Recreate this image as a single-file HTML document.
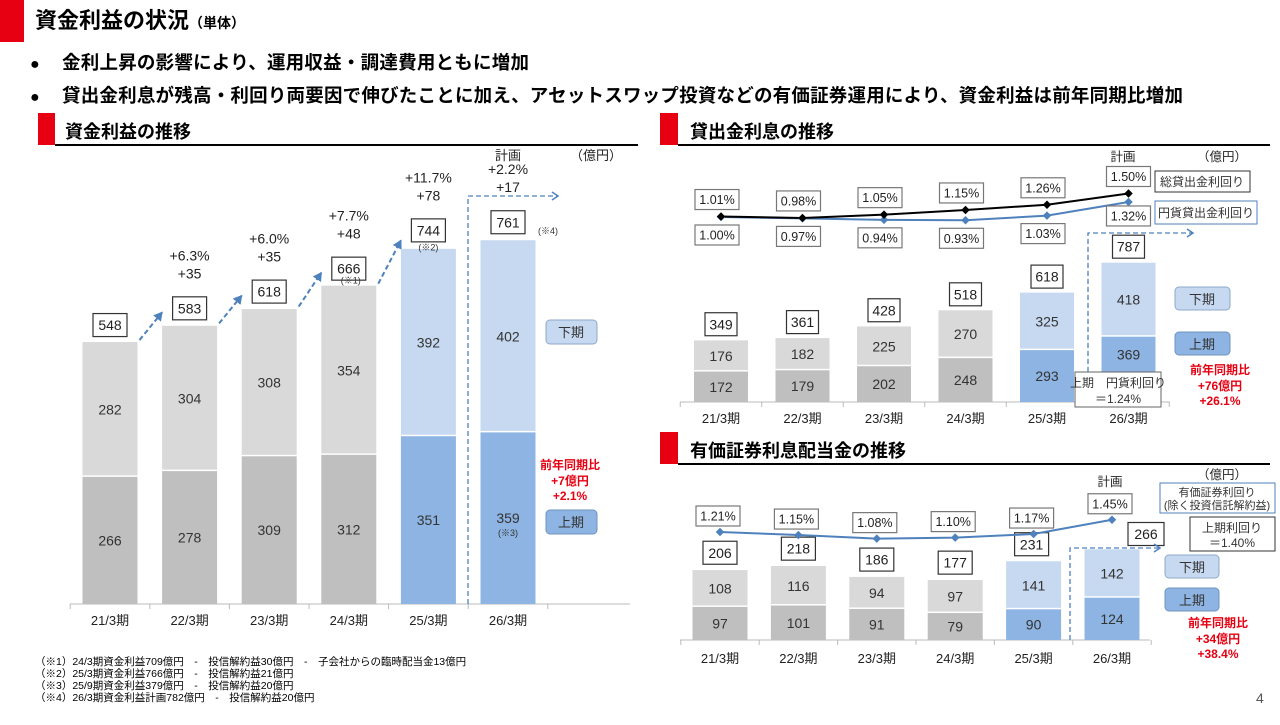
<!DOCTYPE html>
<html><head><meta charset="utf-8">
<style>
body{margin:0;background:#fff;width:1280px;height:720px;overflow:hidden;font-family:"Liberation Sans","Noto Sans CJK JP",sans-serif;}
svg text{font-family:"Liberation Sans","Noto Sans CJK JP",sans-serif;}
</style></head>
<body>
<svg id="s" width="1280" height="720" xmlns="http://www.w3.org/2000/svg">
<defs>
<marker id="ah" markerWidth="10" markerHeight="10" refX="7" refY="5" orient="auto" markerUnits="userSpaceOnUse"><path d="M1,1 L7,5 L1,9" fill="none" stroke="#4f81bd" stroke-width="1.5"/></marker>
<marker id="ahs" markerWidth="10" markerHeight="10" refX="8" refY="5" orient="auto" markerUnits="userSpaceOnUse"><path d="M0,0 L9,5 L0,10 Z" fill="#4f81bd"/></marker>
</defs>
<rect x="0" y="0" width="24" height="42" fill="#e60012"/>
<text x="35" y="28" font-size="22" font-weight="bold">資金利益の状況<tspan font-size="14">（単体）</tspan></text>
<text x="30" y="69" font-size="16" font-weight="bold">●</text>
<text x="62" y="69" font-size="18.5" font-weight="bold" textLength="467">金利上昇の影響により、運用収益・調達費用ともに増加</text>
<text x="30" y="102" font-size="16" font-weight="bold">●</text>
<text x="62" y="102" font-size="18.5" font-weight="bold" textLength="1121">貸出金利息が残高・利回り両要因で伸びたことに加え、アセットスワップ投資などの有価証券運用により、資金利益は前年同期比増加</text>

<rect x="38" y="113" width="17" height="32" fill="#e60012"/>
<line x1="55" y1="145" x2="638" y2="145" stroke="#000" stroke-width="2"/>
<text x="65" y="138" font-size="18" font-weight="bold">資金利益の推移</text>
<rect x="660" y="113" width="18" height="32" fill="#e60012"/>
<line x1="678" y1="145" x2="1270" y2="145" stroke="#000" stroke-width="2"/>
<text x="690" y="138" font-size="18" font-weight="bold">貸出金利息の推移</text>
<rect x="660" y="432" width="18" height="32" fill="#e60012"/>
<line x1="678" y1="464" x2="1270" y2="464" stroke="#000" stroke-width="2"/>
<text x="690" y="457" font-size="18" font-weight="bold">有価証券利息配当金の推移</text>

<g id="L"></g><g id="R1"></g><g id="R2"></g>

<g font-size="10.5">
<text x="35" y="665">（※1）24/3期資金利益709億円　-　投信解約益30億円　-　子会社からの臨時配当金13億円</text>
<text x="35" y="677">（※2）25/3期資金利益766億円　-　投信解約益21億円</text>
<text x="35" y="689">（※3）25/9期資金利益379億円　-　投信解約益20億円</text>
<text x="35" y="701">（※4）26/3期資金利益計画782億円　-　投信解約益20億円</text>
</g>
<text x="1256" y="703" font-size="14" fill="#555">4</text>
</svg>
<script>
const cats=["21/3期","22/3期","23/3期","24/3期","25/3期","26/3期"];
// left chart
const nimLower=[266,278,309,312,351,359];
const nimUpper=[282,304,308,354,392,402];
const nimTotal=[548,583,618,666,744,761];
const nimGrowthPct=["","+6.3%","+6.0%","+7.7%","+11.7%","+2.2%"];
const nimGrowthAmt=["","+35","+35","+48","+78","+17"];
// loan chart
const loanLower=[172,179,202,248,293,369];
const loanUpper=[176,182,225,270,325,418];
const loanTotal=[349,361,428,518,618,787];
const loanYieldTotal=[1.01,0.98,1.05,1.15,1.26,1.50];
const loanYieldYen=[1.00,0.97,0.94,0.93,1.03,1.32];
// securities chart
const secLower=[97,101,91,79,90,124];
const secUpper=[108,116,94,97,141,142];
const secTotal=[206,218,186,177,231,266];
const secYield=[1.21,1.15,1.08,1.10,1.17,1.45];

const NS="http://www.w3.org/2000/svg";
function mk(p,tag,at,txt){const e=document.createElementNS(NS,tag);for(const k in at)e.setAttribute(k,at[k]);if(txt!==undefined)e.textContent=txt;p.appendChild(e);return e;}
function lbl(p,x,y,t,o){o=o||{};const e=mk(p,'text',{x:x,y:y,'text-anchor':o.a||'middle','font-size':o.fs||14,fill:o.fill||'#333','font-weight':o.fw||'normal'},t);return e;}
function boxLbl(p,x,y,t,w,h,fs,stroke){const r=mk(p,'rect',{x:x-w/2,y:y-h/2,width:w,height:h,fill:'#fff',stroke:stroke||'#333','stroke-width':1.2});lbl(p,x,y+fs*0.36,t,{fs:fs,fill:'#222'});return r;}
function pctf(v){return v.toFixed(2)+'%';}
const cGray1='#bfbfbf',cGray2='#d9d9d9',cBlue1='#8db4e2',cBlue2='#c6d9f1';

// ---------- LEFT ----------
(function(){
const g=document.getElementById('L');
const base=604,k=0.478,x0=110,dx=79.6,bw=55;
const X=i=>x0+i*dx, Y=v=>base-v*k;
mk(g,'line',{x1:70,y1:base,x2:630,y2:base,stroke:'#bbb'});
for(let i=0;i<=6;i++){mk(g,'line',{x1:X(i)-dx/2,y1:base,x2:X(i)-dx/2,y2:base+5,stroke:'#bbb'});}
for(let i=0;i<6;i++){
 const blue=i>=4;
 const lo=mk(g,'rect',{x:X(i)-bw/2,y:Y(nimLower[i]),width:bw,height:nimLower[i]*k,fill:blue?cBlue1:cGray1});
 
 
 const up=mk(g,'rect',{x:X(i)-bw/2,y:Y(nimLower[i]+nimUpper[i]),width:bw,height:nimUpper[i]*k-1.5,fill:blue?cBlue2:cGray2});
 
 
 lbl(g,X(i),Y(nimLower[i]/2)+5,nimLower[i],{fs:14});
 lbl(g,X(i),Y(nimLower[i]+nimUpper[i]/2)+5,nimUpper[i],{fs:14});
 const top=Y(nimTotal[i]);
 const by=i>=4?top-18:top-17;
 boxLbl(g,X(i),by,nimTotal[i],34,23,14);
 lbl(g,X(i),620+5,cats[i],{fs:13,fill:'#222'});
 if(nimGrowthPct[i]){lbl(g,X(i),by-48,nimGrowthPct[i],{fs:14,fill:'#222'});lbl(g,X(i),by-30,nimGrowthAmt[i],{fs:14,fill:'#222'});}
 if(i<4){const n=i+1;mk(g,'line',{x1:X(i)+bw/2+2,y1:top-2,x2:X(n)-bw/2,y2:Y(nimTotal[n])-(n>=4?12:17)+4,stroke:'#4f81bd','stroke-width':2,'stroke-dasharray':'5,3','marker-end':'url(#ahs)'});}
}
lbl(g,X(3)+2,Y(nimTotal[3])-2,'(※1)',{fs:9});
lbl(g,X(4),Y(nimTotal[4])+2,'(※2)',{fs:9});
lbl(g,X(5)+40,Y(nimTotal[5])-6,'(※4)',{fs:9});
lbl(g,X(5),Y(nimLower[5]/2)+18,'(※3)',{fs:9});
mk(g,'path',{d:'M468,604 L468,196 L558,196',fill:'none',stroke:'#4f81bd','stroke-width':1.3,'stroke-dasharray':'5,3','marker-end':'url(#ah)'});
lbl(g,X(5),160,'計画',{fs:13,fill:'#222'});lbl(g,596,160,'（億円）',{fs:13,fill:'#222'});
mk(g,'rect',{x:546,y:320,width:51,height:24,rx:4,fill:cBlue2,stroke:'#8ea9c9'});lbl(g,571,337,'下期',{fs:13});
mk(g,'rect',{x:546,y:510,width:51,height:24,rx:4,fill:cBlue1,stroke:'#6f93bf'});lbl(g,571,527,'上期',{fs:13});
lbl(g,570,469,'前年同期比',{fs:12,fw:'bold',fill:'#e60012'});lbl(g,570,485,'+7億円',{fs:12,fw:'bold',fill:'#e60012'});lbl(g,570,500,'+2.1%',{fs:12,fw:'bold',fill:'#e60012'});
})();

// ---------- RIGHT TOP ----------
(function(){
const g=document.getElementById('R1');
const base=402,k=0.177,x0=721,dx=81.5,bw=54;
const X=i=>x0+i*dx,Y=v=>base-v*k,LY=v=>264-47*v;
mk(g,'line',{x1:680,y1:base,x2:1170,y2:base,stroke:'#bbb'});
for(let i=0;i<=6;i++){mk(g,'line',{x1:X(i)-dx/2,y1:base,x2:X(i)-dx/2,y2:base+5,stroke:'#bbb'});}
for(let i=0;i<6;i++){
 const blue=i>=4;
 const lo=mk(g,'rect',{x:X(i)-bw/2,y:Y(loanLower[i]),width:bw,height:loanLower[i]*k,fill:blue?cBlue1:cGray1});
 
 
 const up=mk(g,'rect',{x:X(i)-bw/2,y:Y(loanLower[i]+loanUpper[i]),width:bw,height:loanUpper[i]*k-1.5,fill:blue?cBlue2:cGray2});
 
 
 lbl(g,X(i),(i==5?Y(loanLower[i])+23:Y(loanLower[i]/2)+5),loanLower[i],{fs:14});
 lbl(g,X(i),Y(loanLower[i]+loanUpper[i]/2)+5,loanUpper[i],{fs:14});
 boxLbl(g,X(i),Y(loanTotal[i])-16,loanTotal[i],32,23,14);
 lbl(g,X(i),423,cats[i],{fs:13,fill:'#222'});
}
let pb='',py='';
for(let i=0;i<6;i++){pb+=(i?'L':'M')+X(i)+','+LY(loanYieldTotal[i]);py+=(i?'L':'M')+X(i)+','+LY(loanYieldYen[i]);}
const l2=mk(g,'path',{d:py,fill:'none',stroke:'#4f81bd','stroke-width':2});


const l1=mk(g,'path',{d:pb,fill:'none',stroke:'#000','stroke-width':2});


for(let i=0;i<6;i++){
 mk(g,'rect',{x:X(i)-3,y:LY(loanYieldYen[i])-3,width:6,height:6,fill:'#4f81bd',transform:'rotate(45 '+X(i)+' '+LY(loanYieldYen[i])+')'});
 mk(g,'rect',{x:X(i)-3,y:LY(loanYieldTotal[i])-3,width:6,height:6,fill:'#000',transform:'rotate(45 '+X(i)+' '+LY(loanYieldTotal[i])+')'});
 boxLbl(g,X(i)-4+(i==5?4:0),LY(loanYieldTotal[i])-17,pctf(loanYieldTotal[i]),44,20,12.5,'#777');
 boxLbl(g,X(i)-4+(i==5?4:0),LY(loanYieldYen[i])+(i==5?14:18),pctf(loanYieldYen[i]),44,20,12.5,'#777');
}
mk(g,'path',{d:'M1088,372 L1088,233 L1193,233',fill:'none',stroke:'#4f81bd','stroke-width':1.3,'stroke-dasharray':'5,3','marker-end':'url(#ah)'});
lbl(g,1123,161,'計画',{fs:12.5,fill:'#222'});lbl(g,1222,161,'（億円）',{fs:12.5,fill:'#222'});
mk(g,'rect',{x:1155,y:171,width:95,height:21,fill:'#fff',stroke:'#333'});lbl(g,1202,186,'総貸出金利回り',{fs:12});
mk(g,'rect',{x:1155,y:201,width:102,height:23,fill:'#fff',stroke:'#4f81bd'});lbl(g,1206,217,'円貨貸出金利回り',{fs:12});
mk(g,'rect',{x:1175,y:287,width:55,height:23,rx:4,fill:cBlue2,stroke:'#8ea9c9'});lbl(g,1202,304,'下期',{fs:13});
mk(g,'rect',{x:1175,y:332,width:55,height:23,rx:4,fill:cBlue1,stroke:'#6f93bf'});lbl(g,1202,349,'上期',{fs:13});
mk(g,'rect',{x:1075,y:372,width:86,height:35,fill:'#fff',stroke:'#666'});lbl(g,1118,387,'上期　円貨利回り',{fs:12});lbl(g,1118,403,'＝1.24%',{fs:12});
lbl(g,1220,374,'前年同期比',{fs:12,fw:'bold',fill:'#e60012'});lbl(g,1220,390,'+76億円',{fs:12,fw:'bold',fill:'#e60012'});lbl(g,1220,405,'+26.1%',{fs:12,fw:'bold',fill:'#e60012'});
})();

// ---------- RIGHT BOTTOM ----------
(function(){
const g=document.getElementById('R2');
const base=640,k=0.341,x0=720,dx=78.4,bw=55;
const X=i=>x0+i*dx,Y=v=>base-v*k,LY=v=>532+(1.21-v)*51;
mk(g,'line',{x1:680,y1:base,x2:1150,y2:base,stroke:'#bbb'});
for(let i=0;i<=6;i++){mk(g,'line',{x1:X(i)-dx/2,y1:base,x2:X(i)-dx/2,y2:base+5,stroke:'#bbb'});}
for(let i=0;i<6;i++){
 const blue=i>=4;
 const lo=mk(g,'rect',{x:X(i)-bw/2,y:Y(secLower[i]),width:bw,height:secLower[i]*k,fill:blue?cBlue1:cGray1});
 
 
 const up=mk(g,'rect',{x:X(i)-bw/2,y:Y(secLower[i]+secUpper[i]),width:bw,height:secUpper[i]*k-1.5,fill:blue?cBlue2:cGray2});
 
 
 lbl(g,X(i),Y(secLower[i]/2)+5,secLower[i],{fs:14});
 lbl(g,X(i),Y(secLower[i]+secUpper[i]/2)+5,secUpper[i],{fs:14});
 if(i<5)boxLbl(g,X(i)+(i==4?-2:0),Y(secTotal[i])-17,secTotal[i],34,23,14);
 else boxLbl(g,X(i)+34,534,secTotal[i],36,23,14);
 lbl(g,X(i),663,cats[i],{fs:13,fill:'#222'});
}
let p='';for(let i=0;i<6;i++)p+=(i?'L':'M')+X(i)+','+LY(secYield[i]);
const l=mk(g,'path',{d:p,fill:'none',stroke:'#4f81bd','stroke-width':2});


for(let i=0;i<6;i++){
 mk(g,'rect',{x:X(i)-3,y:LY(secYield[i])-3,width:6,height:6,fill:'#4f81bd',transform:'rotate(45 '+X(i)+' '+LY(secYield[i])+')'});
 boxLbl(g,X(i)-2,LY(secYield[i])-16,pctf(secYield[i]),44,20,12.5,'#777');
}
mk(g,'path',{d:'M1070,640 L1070,548 L1160,548',fill:'none',stroke:'#4f81bd','stroke-width':1.3,'stroke-dasharray':'5,3','marker-end':'url(#ah)'});
lbl(g,1110,486,'計画',{fs:12.5,fill:'#222'});lbl(g,1222,479,'（億円）',{fs:12.5,fill:'#222'});
mk(g,'rect',{x:1160,y:483,width:115,height:30,fill:'#fff',stroke:'#4f81bd'});lbl(g,1217,496,'有価証券利回り',{fs:11});lbl(g,1217,509,'(除く投資信託解約益)',{fs:11});
mk(g,'rect',{x:1190,y:517,width:85,height:34,fill:'#fff',stroke:'#333'});lbl(g,1232,532,'上期利回り',{fs:12});lbl(g,1232,547,'＝1.40%',{fs:12});
mk(g,'rect',{x:1165,y:555,width:54,height:23,rx:4,fill:cBlue2,stroke:'#8ea9c9'});lbl(g,1192,572,'下期',{fs:13});
mk(g,'rect',{x:1165,y:588,width:54,height:23,rx:4,fill:cBlue1,stroke:'#6f93bf'});lbl(g,1192,605,'上期',{fs:13});
lbl(g,1218,627,'前年同期比',{fs:12,fw:'bold',fill:'#e60012'});lbl(g,1218,643,'+34億円',{fs:12,fw:'bold',fill:'#e60012'});lbl(g,1218,658,'+38.4%',{fs:12,fw:'bold',fill:'#e60012'});
})();
</script>
</body></html>
